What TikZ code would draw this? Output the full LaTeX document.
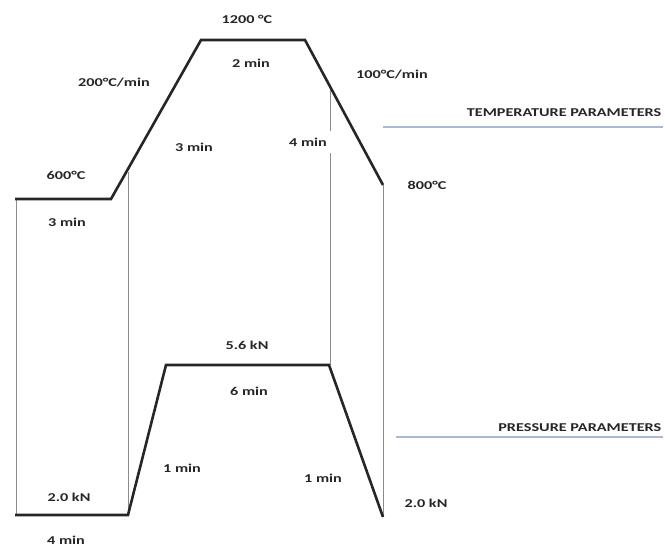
\documentclass[tikz,border=0pt]{standalone}
\usepackage{fontspec}
\newfontfamily\lblfont{Carlito}[FakeStretch=1.35]
\definecolor{paramblue}{RGB}{170,186,212}
\tikzset{
  profile/.style={line width=2.6pt, black!85, line join=miter},
  guide/.style={line width=0.8pt, black!45},
  rule/.style={line width=1.5pt, paramblue},
  lbl/.style={font=\lblfont\bfseries\fontsize{12}{14}\selectfont, text=black!85, inner sep=1.5pt, fill=white},
}
\begin{document}
\begin{tikzpicture}[x=1pt,y=-1pt]
  \useasboundingbox (0,0) rectangle (665,549);
  % guide lines
  \draw[guide](16,199) -- (16,515);
  \draw[guide](128,172) -- (128,515);
  \draw[guide](330,90) -- (330,365);
  \draw[guide](383,185) -- (383,517);
  % temperature profile
  \draw[profile](15,199) -- (111,199) -- (201,40) -- (305,40) -- (383,185);
  % pressure profile
  \draw[profile](15,515) -- (128,515) -- (166,365) -- (329,365) -- (383,517);
  % parameter rules
  \draw[rule](383,127) -- (663,127);
  \draw[rule](396,437) -- (663,437);
  % temperature labels
  \path(247,19) node[lbl] (tmax) {1200 °C};
  \path(251,63) node[lbl] (thold) {2 min};
  \path(114,83) node[lbl] (theat) {200°C/min};
  \path(194,147) node[lbl] (tramp) {3 min};
  \path(308,142) node[lbl,inner xsep=5pt,inner ysep=7pt] (tcool) {4 min};
  \path(66,175) node[lbl] (tstart) {600°C};
  \path(67,222) node[lbl] (tpre) {3 min};
  \path(392,75) node[lbl] (trate) {100°C/min};
  \path(427,185) node[lbl] (tend) {800°C};
  \path(663,113) node[lbl,anchor=east] (ttitle) {TEMPERATURE PARAMETERS};
  % pressure labels
  \path(247,345) node[lbl] (pmax) {5.6 kN};
  \path(249,391) node[lbl] (phold) {6 min};
  \path(182,468) node[lbl] (pramp) {1 min};
  \path(323,478) node[lbl] (prelease) {1 min};
  \path(69,497) node[lbl] (pstart) {2.0 kN};
  \path(66,540) node[lbl] (ppre) {4 min};
  \path(426,503) node[lbl] (pend) {2.0 kN};
  \path(663,428) node[lbl,anchor=east] (ptitle) {PRESSURE PARAMETERS};
\end{tikzpicture}
\end{document}
